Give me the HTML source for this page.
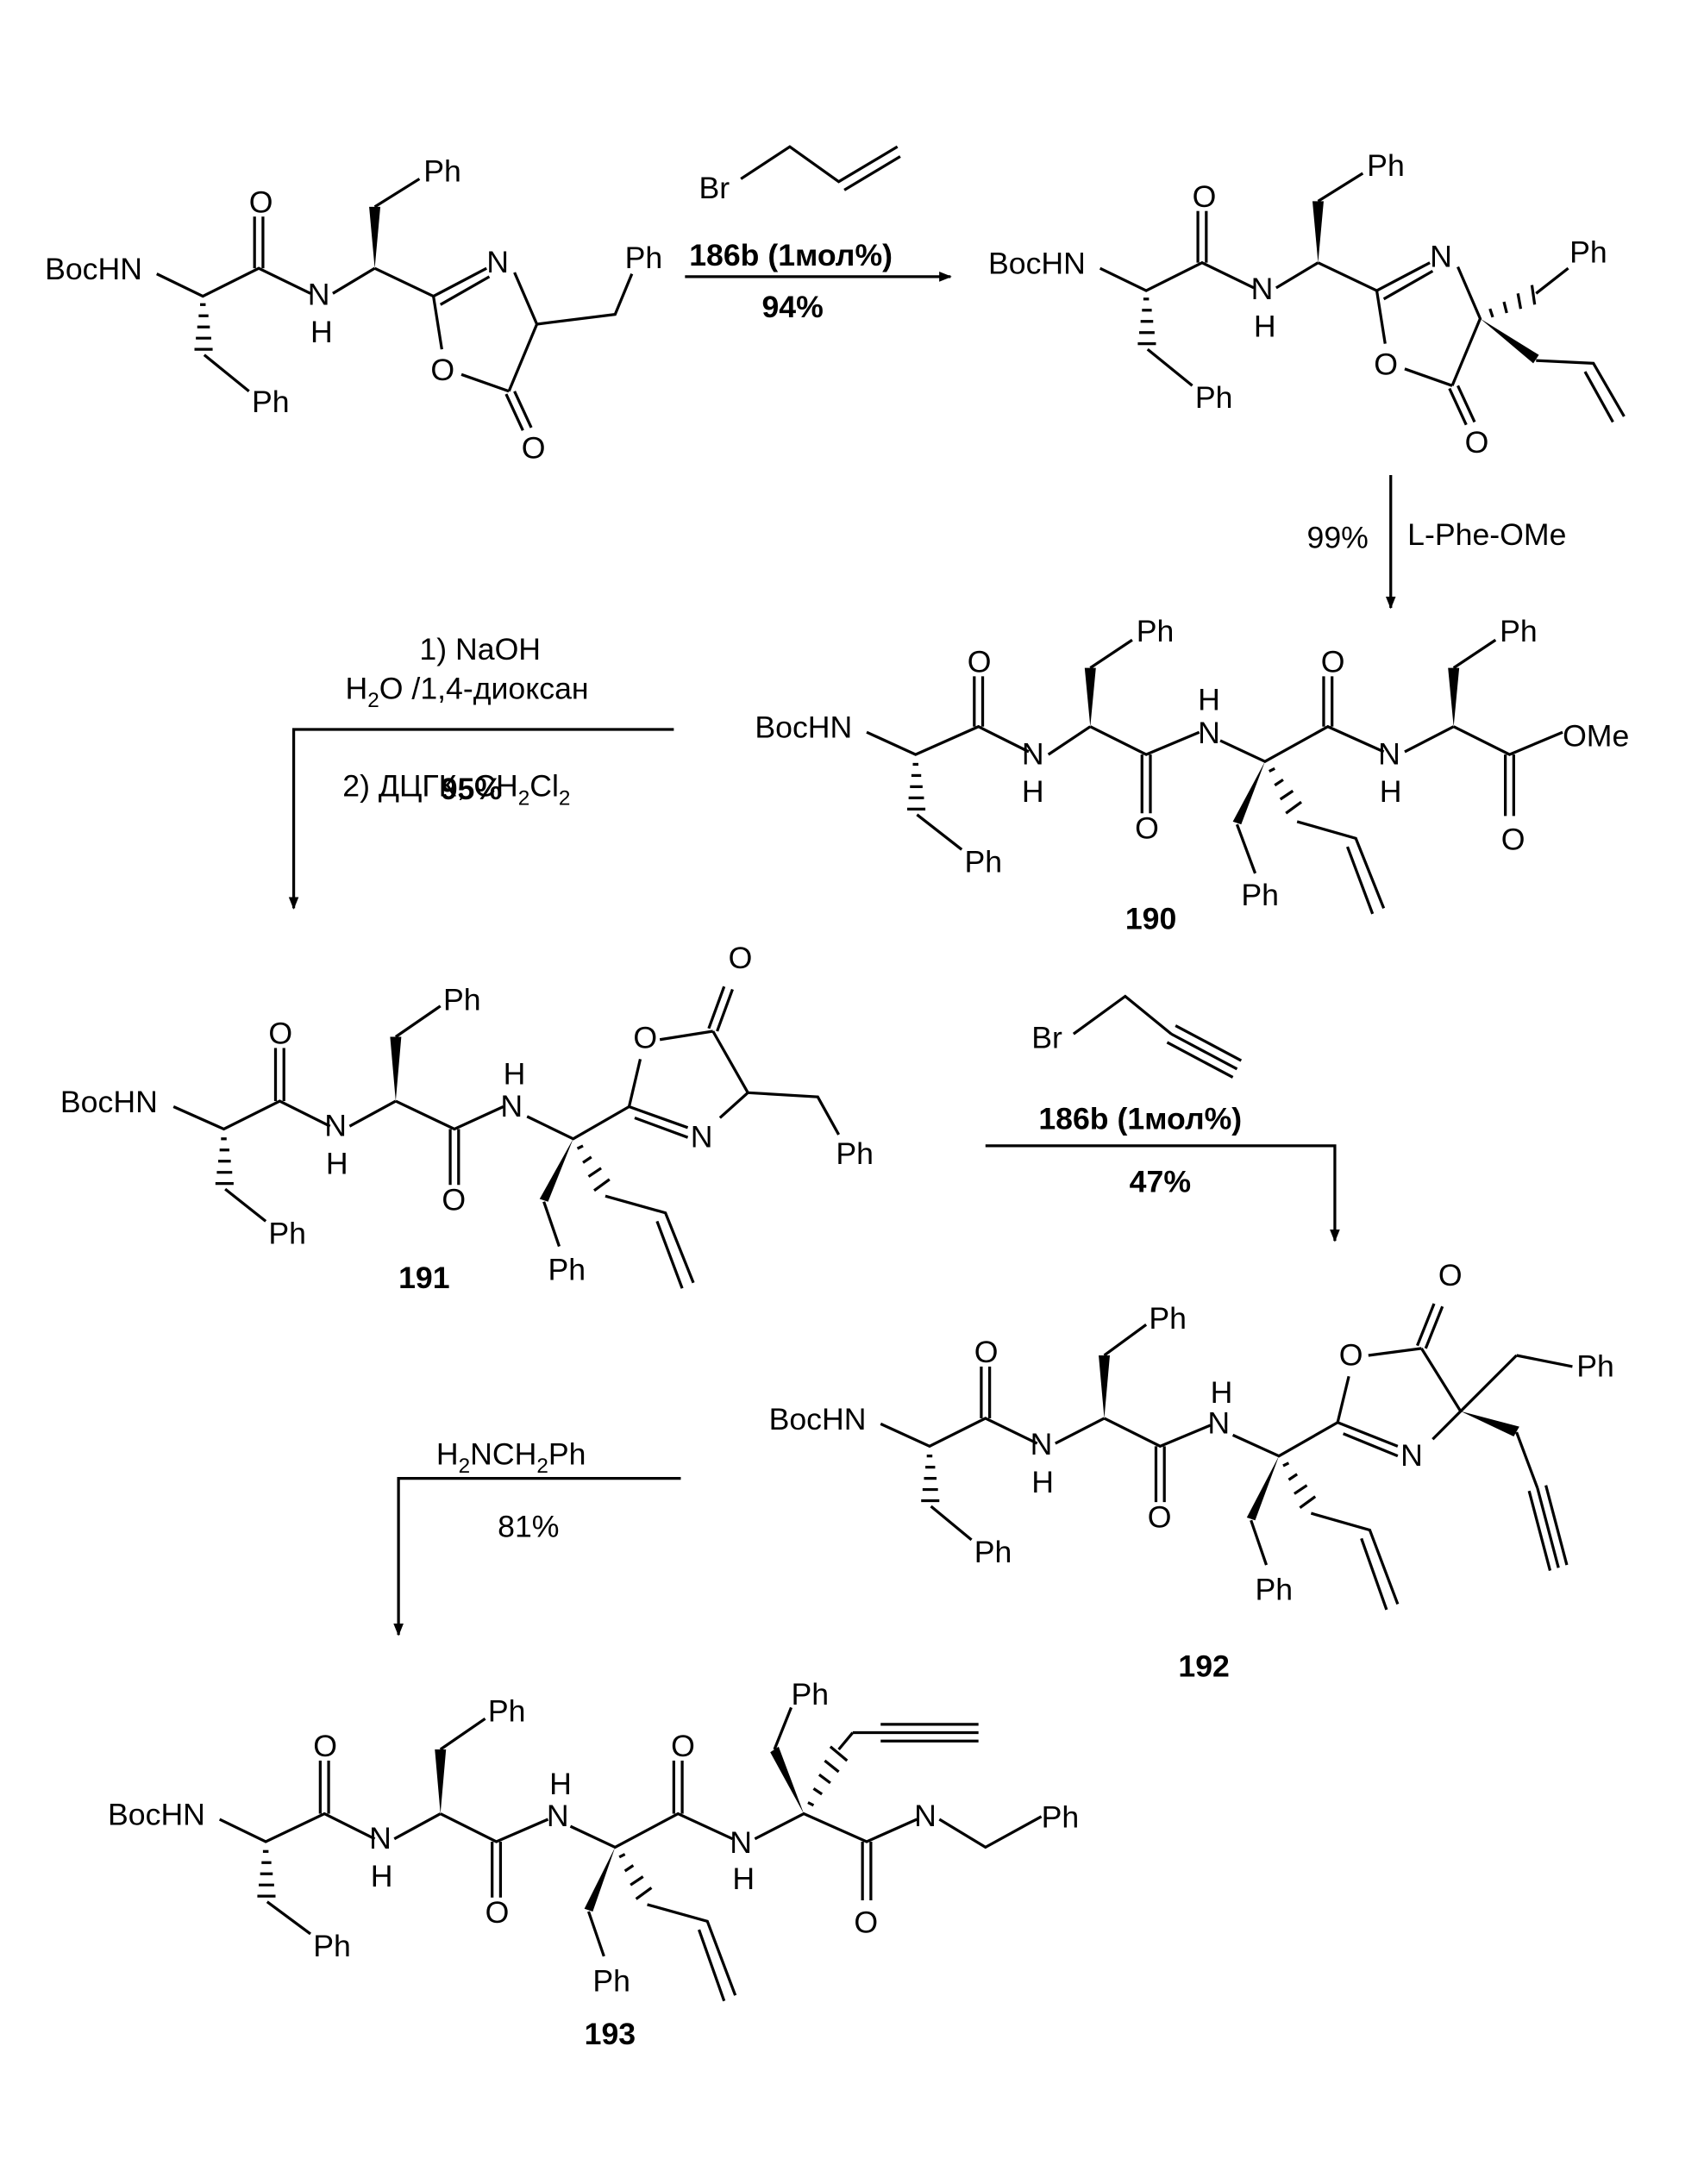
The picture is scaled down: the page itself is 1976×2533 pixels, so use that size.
<!DOCTYPE html>
<html><head><meta charset="utf-8"><style>
html,body{margin:0;padding:0;background:#fff;}
svg{display:block;}
text{font-family:"Liberation Sans","Noto Sans CJK SC",sans-serif;font-size:22px;fill:#000;}
.b{font-weight:bold;}
line,polyline{stroke:#000;stroke-width:2;fill:none;}
</style></head><body>
<svg width="1976" height="2533" viewBox="0 0 1219 1563" xmlns="http://www.w3.org/2000/svg">
<defs>
<marker id="ah" viewBox="0 0 10 10" refX="9" refY="5" markerWidth="9" markerHeight="9" orient="auto" markerUnits="userSpaceOnUse"><path d="M0,1 L10,5 L0,9 z" fill="#000"/></marker>
<pattern id="hash" width="4" height="4" patternUnits="userSpaceOnUse"><rect width="4" height="2" fill="#000"/></pattern>
</defs>

<!-- ===== Molecule A ===== -->
<text x="32" y="200">BocHN</text>
<polyline points="112,196 145,212 185,192 222,210"/>
<line x1="182" y1="192" x2="182" y2="155"/><line x1="188" y1="192" x2="188" y2="155"/>
<text x="178" y="152">O</text>
<g stroke="#000" stroke-width="2"><line x1="143" y1="218" x2="147" y2="218"/><line x1="142" y1="226" x2="149" y2="226"/><line x1="141" y1="234" x2="150" y2="234"/><line x1="140" y1="242" x2="151" y2="242"/><line x1="139" y1="250" x2="152" y2="250"/></g>
<polyline points="146,254 178,280"/><text x="180" y="295">Ph</text>
<text x="220" y="218">N</text><text x="222" y="245">H</text>
<line x1="238" y1="210" x2="268" y2="192"/>
<polygon points="268,192 264,148 272,148"/>
<line x1="268" y1="148" x2="300" y2="128"/><text x="303" y="130">Ph</text>
<polyline points="268,192 310,212 348,192"/><line x1="315" y1="218" x2="350" y2="198"/>
<text x="348" y="195">N</text>
<polyline points="368,195 384,232 364,280"/>
<line x1="310" y1="212" x2="316" y2="250"/><text x="308" y="272">O</text>
<line x1="330" y1="268" x2="364" y2="280"/>
<line x1="362" y1="282" x2="374" y2="308"/><line x1="368" y1="280" x2="380" y2="306"/>
<text x="373" y="328">O</text>
<polyline points="384,232 440,225 452,196"/><text x="447" y="192">Ph</text>

<!-- arrow 1 -->
<text x="500" y="142">Br</text>
<polyline points="530,128 565,105 600,130 642,105"/><line x1="604" y1="136" x2="644" y2="112"/>
<text class="b" x="493" y="190">186b (1мол%)</text>
<line x1="490" y1="198" x2="680" y2="198" marker-end="url(#ah)"/>
<text class="b" x="545" y="227">94%</text>

<!-- ===== Molecule B ===== -->
<text x="707" y="196">BocHN</text>
<polyline points="787,192 820,208 860,188 897,206"/>
<line x1="857" y1="188" x2="857" y2="151"/><line x1="863" y1="188" x2="863" y2="151"/>
<text x="853" y="148">O</text>
<g stroke="#000" stroke-width="2"><line x1="818" y1="214" x2="822" y2="214"/><line x1="817" y1="222" x2="824" y2="222"/><line x1="816" y1="230" x2="825" y2="230"/><line x1="815" y1="238" x2="826" y2="238"/><line x1="814" y1="246" x2="827" y2="246"/></g>
<polyline points="821,250 853,276"/><text x="855" y="292">Ph</text>
<text x="895" y="214">N</text><text x="897" y="241">H</text>
<line x1="913" y1="206" x2="943" y2="188"/>
<polygon points="943,188 939,144 947,144"/>
<line x1="943" y1="144" x2="975" y2="124"/><text x="978" y="126">Ph</text>
<polyline points="943,188 985,208 1023,188"/><line x1="990" y1="214" x2="1025" y2="194"/>
<text x="1023" y="191">N</text>
<polyline points="1043,191 1059,228 1039,276"/>
<line x1="985" y1="208" x2="991" y2="246"/><text x="983" y="268">O</text>
<line x1="1005" y1="264" x2="1039" y2="276"/>
<line x1="1037" y1="278" x2="1049" y2="304"/><line x1="1043" y1="276" x2="1055" y2="302"/>
<text x="1048" y="324">O</text>
<g stroke="#000" stroke-width="2"><line x1="1066" y1="221" x2="1068" y2="227"/><line x1="1076" y1="216" x2="1078" y2="224"/><line x1="1086" y1="210" x2="1088" y2="221"/><line x1="1096" y1="204" x2="1098" y2="218"/></g>
<line x1="1099" y1="210" x2="1122" y2="192"/><text x="1123" y="188">Ph</text>
<polygon points="1059,228 1097,260 1101,254"/>
<polyline points="1099,258 1140,260 1162,298"/><line x1="1134" y1="266" x2="1154" y2="302"/>

<!-- arrow 2 -->
<line x1="995" y1="340" x2="995" y2="435" marker-end="url(#ah)"/>
<text x="935" y="392">99%</text><text x="1007" y="390">L-Phe-OMe</text>

<!-- ===== 190 ===== -->
<text x="540" y="528">BocHN</text>
<polyline points="620,524 655,540 700,520 736,538"/>
<line x1="697" y1="520" x2="697" y2="484"/><line x1="703" y1="520" x2="703" y2="484"/>
<text x="692" y="481">O</text>
<g stroke="#000" stroke-width="2"><line x1="653" y1="547" x2="657" y2="547"/><line x1="652" y1="555" x2="659" y2="555"/><line x1="651" y1="563" x2="660" y2="563"/><line x1="650" y1="571" x2="661" y2="571"/><line x1="649" y1="579" x2="662" y2="579"/></g>
<line x1="656" y1="583" x2="688" y2="608"/><text x="690" y="624">Ph</text>
<text x="731" y="547">N</text><text x="731" y="574">H</text>
<line x1="750" y1="540" x2="780" y2="520"/>
<polygon points="780,520 776,478 784,478"/>
<line x1="780" y1="478" x2="810" y2="458"/><text x="813" y="459">Ph</text>
<polyline points="780,520 820,540 858,524"/>
<line x1="817" y1="540" x2="817" y2="582"/><line x1="823" y1="540" x2="823" y2="582"/>
<text x="812" y="600">O</text>
<text x="857" y="532">N</text><text x="857" y="508">H</text>
<polyline points="873,530 905,545 950,520 990,538"/>
<line x1="947" y1="520" x2="947" y2="484"/><line x1="953" y1="520" x2="953" y2="484"/>
<text x="945" y="481">O</text>
<text x="986" y="547">N</text><text x="987" y="574">H</text>
<line x1="1005" y1="538" x2="1040" y2="520"/>
<polygon points="1040,520 1036,478 1044,478"/>
<line x1="1040" y1="478" x2="1070" y2="458"/><text x="1073" y="459">Ph</text>
<polyline points="1040,520 1080,540 1118,524"/><text x="1118" y="534">OMe</text>
<line x1="1077" y1="540" x2="1077" y2="584"/><line x1="1083" y1="540" x2="1083" y2="584"/>
<text x="1074" y="608">O</text>
<polygon points="905,545 882,588 888,590"/>
<line x1="885" y1="590" x2="898" y2="625"/><text x="888" y="648">Ph</text>
<g stroke="#000" stroke-width="2"><line x1="908" y1="552" x2="912" y2="550"/><line x1="912" y1="562" x2="918" y2="558"/><line x1="916" y1="572" x2="925" y2="566"/><line x1="920" y1="582" x2="931" y2="574"/></g>
<polyline points="928,588 970,600 990,650"/><line x1="964" y1="606" x2="982" y2="654"/>
<text class="b" x="805" y="665">190</text>

<!-- arrow 3 -->
<text x="300" y="472">1) NaOH</text>
<text x="247" y="500">H<tspan font-size="15" dy="6">2</tspan><tspan dy="-6">O /1,4-диоксан</tspan></text>
<polyline points="482,522 210,522 210,650" marker-end="url(#ah)"/>
<text x="245" y="570">2) ДЦГК, CH<tspan font-size="15" dy="6">2</tspan><tspan dy="-6">Cl</tspan><tspan font-size="15" dy="6">2</tspan></text>
<text class="b" x="315" y="572">95%</text>

<!-- ===== 191 ===== -->
<text x="43" y="796">BocHN</text>
<polyline points="124,792 160,808 200,788 236,806"/>
<line x1="197" y1="788" x2="197" y2="750"/><line x1="203" y1="788" x2="203" y2="750"/>
<text x="192" y="747">O</text>
<g stroke="#000" stroke-width="2"><line x1="158" y1="815" x2="162" y2="815"/><line x1="157" y1="823" x2="164" y2="823"/><line x1="156" y1="831" x2="165" y2="831"/><line x1="155" y1="839" x2="166" y2="839"/><line x1="154" y1="847" x2="167" y2="847"/></g>
<line x1="161" y1="851" x2="190" y2="874"/><text x="192" y="890">Ph</text>
<text x="232" y="813">N</text><text x="233" y="840">H</text>
<line x1="250" y1="806" x2="283" y2="788"/>
<polygon points="283,788 279,742 287,742"/>
<line x1="283" y1="742" x2="315" y2="720"/><text x="317" y="723">Ph</text>
<polyline points="283,788 325,808 360,792"/>
<line x1="322" y1="808" x2="322" y2="848"/><line x1="328" y1="808" x2="328" y2="848"/>
<text x="316" y="866">O</text>
<text x="358" y="799">N</text><text x="360" y="776">H</text>
<polyline points="377,799 410,815 450,792"/>
<line x1="450" y1="792" x2="458" y2="758"/><text x="453" y="750">O</text>
<line x1="472" y1="744" x2="510" y2="738"/>
<line x1="507" y1="736" x2="518" y2="706"/><line x1="513" y1="738" x2="524" y2="708"/>
<text x="521" y="693">O</text>
<polyline points="510,738 535,782 515,800"/>
<line x1="450" y1="792" x2="492" y2="807"/><line x1="454" y1="800" x2="492" y2="814"/>
<text x="494" y="821">N</text>
<polyline points="535,782 585,785 600,812"/><text x="598" y="833">Ph</text>
<polygon points="410,815 386,858 392,860"/>
<line x1="389" y1="860" x2="400" y2="892"/><text x="392" y="916">Ph</text>
<g stroke="#000" stroke-width="2"><line x1="413" y1="822" x2="417" y2="820"/><line x1="417" y1="832" x2="423" y2="828"/><line x1="421" y1="842" x2="430" y2="836"/><line x1="425" y1="852" x2="436" y2="844"/></g>
<polyline points="433,856 476,868 496,918"/><line x1="470" y1="874" x2="488" y2="922"/>
<text class="b" x="285" y="922">191</text>

<!-- arrow 4 -->
<text x="738" y="750">Br</text>
<polyline points="768,740 805,713 838,740"/>
<line x1="838" y1="740" x2="885" y2="765"/><line x1="841" y1="734" x2="888" y2="759"/><line x1="835" y1="746" x2="882" y2="771"/>
<text class="b" x="743" y="808">186b (1мол%)</text>
<polyline points="705,820 955,820 955,888" marker-end="url(#ah)"/>
<text class="b" x="808" y="853">47%</text>

<!-- ===== 192 ===== -->
<text x="550" y="1023">BocHN</text>
<polyline points="630,1019 665,1035 705,1015 742,1033"/>
<line x1="702" y1="1015" x2="702" y2="978"/><line x1="708" y1="1015" x2="708" y2="978"/>
<text x="697" y="975">O</text>
<g stroke="#000" stroke-width="2"><line x1="663" y1="1042" x2="667" y2="1042"/><line x1="662" y1="1050" x2="669" y2="1050"/><line x1="661" y1="1058" x2="670" y2="1058"/><line x1="660" y1="1066" x2="671" y2="1066"/><line x1="659" y1="1074" x2="672" y2="1074"/></g>
<line x1="666" y1="1078" x2="695" y2="1102"/><text x="697" y="1118">Ph</text>
<text x="737" y="1041">N</text><text x="738" y="1068">H</text>
<line x1="755" y1="1033" x2="790" y2="1015"/>
<polygon points="790,1015 786,970 794,970"/>
<line x1="790" y1="970" x2="820" y2="948"/><text x="822" y="951">Ph</text>
<polyline points="790,1015 830,1035 866,1020"/>
<line x1="827" y1="1035" x2="827" y2="1075"/><line x1="833" y1="1035" x2="833" y2="1075"/>
<text x="821" y="1093">O</text>
<text x="864" y="1026">N</text><text x="866" y="1004">H</text>
<polyline points="882,1027 915,1042 957,1018"/>
<line x1="957" y1="1018" x2="965" y2="985"/><text x="958" y="977">O</text>
<line x1="979" y1="970" x2="1017" y2="965"/>
<line x1="1014" y1="963" x2="1026" y2="933"/><line x1="1020" y1="965" x2="1032" y2="935"/>
<text x="1029" y="920">O</text>
<polyline points="1017,965 1045,1010 1025,1030"/>
<line x1="957" y1="1018" x2="1000" y2="1035"/><line x1="961" y1="1026" x2="1000" y2="1042"/>
<text x="1002" y="1049">N</text>
<line x1="1045" y1="1010" x2="1085" y2="970"/><line x1="1085" y1="970" x2="1125" y2="978"/>
<text x="1128" y="985">Ph</text>
<polygon points="1045,1010 1083,1028 1087,1021"/>
<line x1="1085" y1="1025" x2="1100" y2="1065"/>
<line x1="1100" y1="1065" x2="1115" y2="1122"/><line x1="1094" y1="1067" x2="1109" y2="1124"/><line x1="1106" y1="1063" x2="1121" y2="1120"/>
<polygon points="915,1042 892,1086 898,1088"/>
<line x1="895" y1="1088" x2="906" y2="1120"/><text x="898" y="1145">Ph</text>
<g stroke="#000" stroke-width="2"><line x1="918" y1="1049" x2="922" y2="1047"/><line x1="922" y1="1059" x2="928" y2="1055"/><line x1="926" y1="1069" x2="935" y2="1063"/><line x1="930" y1="1079" x2="941" y2="1071"/></g>
<polyline points="938,1083 980,1095 1000,1148"/><line x1="974" y1="1101" x2="992" y2="1152"/>
<text class="b" x="843" y="1200">192</text>

<!-- arrow 5 -->
<text x="312" y="1048">H<tspan font-size="15" dy="6">2</tspan><tspan dy="-6">NCH</tspan><tspan font-size="15" dy="6">2</tspan><tspan dy="-6">Ph</tspan></text>
<polyline points="487,1058 285,1058 285,1170" marker-end="url(#ah)"/>
<text x="356" y="1100">81%</text>

<!-- ===== 193 ===== -->
<text x="77" y="1306">BocHN</text>
<polyline points="157,1302 190,1318 232,1298 268,1316"/>
<line x1="229" y1="1298" x2="229" y2="1260"/><line x1="235" y1="1298" x2="235" y2="1260"/>
<text x="224" y="1257">O</text>
<g stroke="#000" stroke-width="2"><line x1="188" y1="1325" x2="192" y2="1325"/><line x1="187" y1="1333" x2="194" y2="1333"/><line x1="186" y1="1341" x2="195" y2="1341"/><line x1="185" y1="1349" x2="196" y2="1349"/><line x1="184" y1="1357" x2="197" y2="1357"/></g>
<line x1="191" y1="1361" x2="222" y2="1384"/><text x="224" y="1400">Ph</text>
<text x="264" y="1323">N</text><text x="265" y="1350">H</text>
<line x1="282" y1="1316" x2="315" y2="1298"/>
<polygon points="315,1298 311,1252 319,1252"/>
<line x1="315" y1="1252" x2="347" y2="1230"/><text x="349" y="1232">Ph</text>
<polyline points="315,1298 355,1318 392,1302"/>
<line x1="352" y1="1318" x2="352" y2="1358"/><line x1="358" y1="1318" x2="358" y2="1358"/>
<text x="347" y="1376">O</text>
<text x="391" y="1307">N</text><text x="393" y="1284">H</text>
<polyline points="408,1307 440,1322 485,1298 524,1316"/>
<line x1="482" y1="1298" x2="482" y2="1260"/><line x1="488" y1="1298" x2="488" y2="1260"/>
<text x="480" y="1257">O</text>
<text x="522" y="1326">N</text><text x="524" y="1352">H</text>
<polyline points="540,1316 575,1298 620,1318 656,1302"/>
<line x1="617" y1="1318" x2="617" y2="1360"/><line x1="623" y1="1318" x2="623" y2="1360"/>
<text x="611" y="1383">O</text>
<text x="654" y="1307">N</text>
<polyline points="672,1302 705,1322 745,1300"/><text x="745" y="1308">Ph</text>
<polygon points="575,1298 551,1254 557,1250"/>
<line x1="554" y1="1252" x2="566" y2="1222"/><text x="566" y="1220">Ph</text>
<g stroke="#000" stroke-width="2"><line x1="578" y1="1290" x2="582" y2="1292"/><line x1="582" y1="1280" x2="588" y2="1284"/><line x1="586" y1="1270" x2="594" y2="1276"/><line x1="590" y1="1260" x2="600" y2="1268"/><line x1="594" y1="1250" x2="606" y2="1260"/></g>
<line x1="600" y1="1252" x2="610" y2="1240"/>
<line x1="610" y1="1240" x2="700" y2="1240"/><line x1="630" y1="1234" x2="700" y2="1234"/><line x1="630" y1="1246" x2="700" y2="1246"/>
<polygon points="440,1322 418,1366 424,1368"/>
<line x1="421" y1="1368" x2="432" y2="1400"/><text x="424" y="1425">Ph</text>
<g stroke="#000" stroke-width="2"><line x1="443" y1="1329" x2="447" y2="1327"/><line x1="447" y1="1339" x2="453" y2="1335"/><line x1="451" y1="1349" x2="460" y2="1343"/><line x1="455" y1="1359" x2="466" y2="1351"/></g>
<polyline points="463,1363 506,1375 526,1428"/><line x1="500" y1="1381" x2="518" y2="1432"/>
<text class="b" x="418" y="1463">193</text>
</svg>
</body></html>
